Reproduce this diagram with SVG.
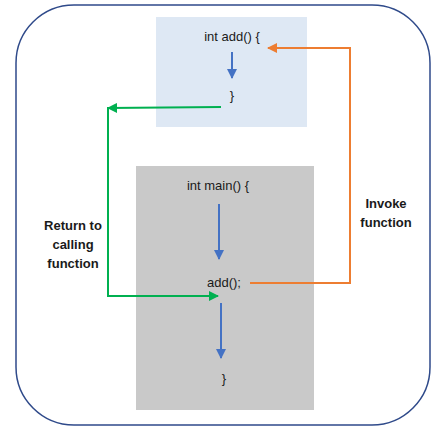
<svg xmlns="http://www.w3.org/2000/svg" width="441" height="430" viewBox="0 0 441 430">
<defs>
<style>
text{font-family:"Liberation Sans",Arial,sans-serif;font-size:13px;fill:#1a1a1a;text-anchor:middle}
.b{font-weight:bold;font-size:13px}
.flow{stroke:#4472C4;stroke-width:2;fill:none}
.green{stroke:#00B050;stroke-width:2;fill:none}
.orange{stroke:#ED7D31;stroke-width:2;fill:none}
</style>
<marker id="ab" viewBox="0 0 10 10" refX="9" refY="5" markerWidth="5" markerHeight="5" orient="auto"><path d="M0,0L10,5L0,10z" fill="#4472C4"/></marker>
<marker id="ag" viewBox="0 0 10 10" refX="9" refY="5" markerWidth="5" markerHeight="5" orient="auto"><path d="M0,0L10,5L0,10z" fill="#00B050"/></marker>
<marker id="ao" viewBox="0 0 10 10" refX="9" refY="5" markerWidth="5" markerHeight="5" orient="auto"><path d="M0,0L10,5L0,10z" fill="#ED7D31"/></marker>
</defs>
<rect x="0" y="0" width="441" height="430" fill="#fff"/>
<g id="frame"><rect x="16" y="5" width="414" height="420" rx="58" fill="#fff" stroke="#2F4A8A" stroke-width="1.5"/></g>
<g id="add-box">
<rect x="156" y="17" width="151" height="110" fill="#DEE8F4"/>
<text x="232" y="41">int add() {</text>
<text x="232" y="100">}</text>
</g>
<g id="main-box">
<rect x="136" y="166" width="178" height="244" fill="#C9C9C9"/>
<text x="218" y="190">int main() {</text>
<text x="224" y="287">add();</text>
<text x="224" y="383">}</text>
</g>
<g id="label-return">
<text class="b" x="73" y="230">Return to</text>
<text class="b" x="73" y="249">calling</text>
<text class="b" x="73" y="268">function</text>
</g>
<g id="label-invoke">
<text class="b" x="386" y="208">Invoke</text>
<text class="b" x="386" y="227">function</text>
</g>
<g id="connectors">
<line class="flow" x1="232" y1="52" x2="232" y2="78" marker-end="url(#ab)"/>
<line class="flow" x1="219" y1="204" x2="219" y2="259" marker-end="url(#ab)"/>
<line class="flow" x1="221" y1="303" x2="221" y2="358" marker-end="url(#ab)"/>
<line class="green" x1="221" y1="107" x2="108" y2="108" marker-end="url(#ag)"/>
<polyline class="green" points="108,107 108,296 218,296" marker-end="url(#ag)"/>
<polyline class="orange" points="250,283 350,283 350,48 268,48" marker-end="url(#ao)"/>
</g>
</svg>
